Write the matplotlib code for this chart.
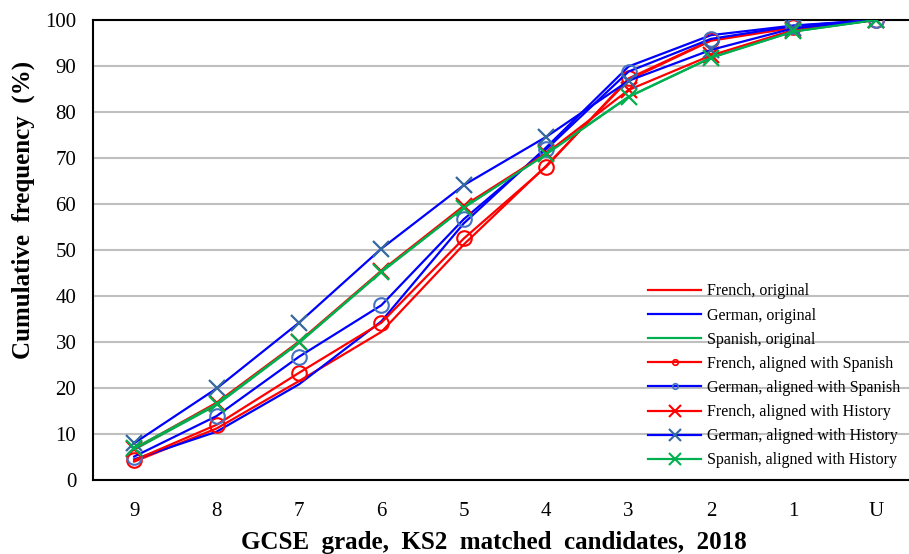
import matplotlib
matplotlib.use("Agg")
import matplotlib.pyplot as plt
from matplotlib.lines import Line2D

grades = ["9", "8", "7", "6", "5", "4", "3", "2", "1", "U"]

french_orig = [4.0, 11.2, 21.5, 32.2, 51.2, 68.3, 87.0, 95.5, 98.3, 100]
german_orig = [4.5, 10.5, 20.8, 34.5, 55.8, 72.3, 89.9, 96.7, 98.8, 100]
spanish_orig = [6.6, 16.3, 29.8, 45.2, 59.2, 71.0, 83.3, 91.8, 97.5, 100]
french_al_span = [4.3, 12.0, 23.3, 34.2, 52.5, 68.1, 87.3, 95.6, 98.5, 100]
german_al_span = [5.1, 13.9, 26.8, 38.0, 56.7, 71.9, 88.8, 95.9, 98.7, 100]
french_al_hist = [6.8, 16.8, 30.1, 45.5, 59.6, 71.0, 84.8, 92.3, 97.8, 100]
german_al_hist = [8.0, 19.9, 34.2, 50.3, 64.1, 74.6, 86.8, 93.5, 98.2, 100]
spanish_al_hist = [6.9, 16.5, 29.9, 45.3, 59.2, 70.8, 83.3, 91.8, 97.5, 100]

labels = ["French, original", "German, original", "Spanish, original",
          "French, aligned with Spanish", "German, aligned with Spanish",
          "French, aligned with History", "German, aligned with History",
          "Spanish, aligned with History"]

RED = "#FF0000"
BLUE = "#0000FF"
GREEN = "#00B050"
CIRC_BLUE = "#4472C4"
X_BLUE = "#34689F"

plt.rcParams['font.family'] = ['Liberation Serif', 'DejaVu Serif']

fig = plt.figure(figsize=(9.09, 5.54), dpi=100)
ax = fig.add_axes([93 / 909, 74 / 554, 824 / 909, 460 / 554])

x = list(range(len(grades)))
lw = 1.6
ax.plot(x, french_orig, color=RED, lw=lw, zorder=3)
ax.plot(x, german_orig, color=BLUE, lw=lw, zorder=3)
ax.plot(x, spanish_orig, color=GREEN, lw=lw, zorder=3)
ax.plot(x, french_al_span, color=RED, lw=lw, marker='o', ms=10.5, mfc='none',
        mec=RED, mew=1.5, zorder=4)
ax.plot(x, german_al_span, color=BLUE, lw=lw, marker='o', ms=10.5, mfc='none',
        mec=CIRC_BLUE, mew=1.5, zorder=4)
ax.plot(x, french_al_hist, color=RED, lw=lw, marker='x', ms=11,
        mec=RED, mew=1.6, zorder=5)
ax.plot(x, german_al_hist, color=BLUE, lw=lw, marker='x', ms=11,
        mec=X_BLUE, mew=1.6, zorder=5)
ax.plot(x, spanish_al_hist, color=GREEN, lw=lw, marker='x', ms=11,
        mec=GREEN, mew=1.6, zorder=5)

ax.set_xlim(-0.5, len(grades) - 0.5)
ax.set_ylim(0, 100)
ax.set_yticks(range(0, 101, 10))
ax.set_xticks(x)
ax.set_xticklabels(grades)
ax.tick_params(axis='both', length=0, labelsize=15)
ax.tick_params(axis='y', pad=12)
ax.tick_params(axis='x', pad=16)
ax.yaxis.grid(True, color="#BFBFBF", lw=1.5)
ax.set_axisbelow(True)
for s in ['left', 'bottom', 'top']:
    ax.spines[s].set_color('black')
    ax.spines[s].set_linewidth(1.5)
ax.spines['right'].set_visible(False)

fig.text(23 / 909, 1 - 210 / 554, "Cumulative  frequency  (%)", fontsize=18,
         fontweight='bold', rotation=90, ha='center', va='center')
fig.text(494 / 909, 1 - 543 / 554, "GCSE  grade,  KS2  matched  candidates,  2018",
         fontsize=18, fontweight='bold', ha='center', va='center')

handles = [
    Line2D([], [], color=RED, lw=lw),
    Line2D([], [], color=BLUE, lw=lw),
    Line2D([], [], color=GREEN, lw=lw),
    Line2D([], [], color=RED, lw=lw, marker='o', ms=4, mfc='none', mec=RED, mew=1.2),
    Line2D([], [], color=BLUE, lw=lw, marker='o', ms=4, mfc='none', mec=CIRC_BLUE, mew=1.2),
    Line2D([], [], color=RED, lw=lw, marker='x', ms=8, mec=RED, mew=1.5),
    Line2D([], [], color=BLUE, lw=lw, marker='x', ms=8, mec=X_BLUE, mew=1.5),
    Line2D([], [], color=GREEN, lw=lw, marker='x', ms=8, mec=GREEN, mew=1.5),
]
fig.legend(handles, labels, loc='upper left', bbox_to_anchor=(642 / 909, 1 - 277 / 554),
           frameon=False, fontsize=11.5, handlelength=3.3, handletextpad=0.4,
           labelspacing=0.51, borderaxespad=0)

fig.savefig("out.png", dpi=100)
